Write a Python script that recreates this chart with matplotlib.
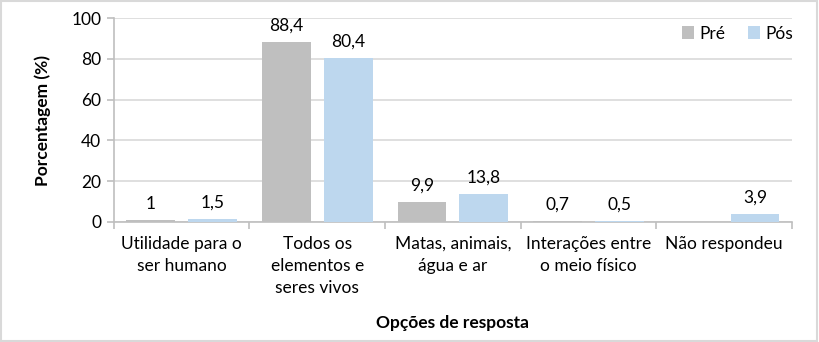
import numpy as np
import matplotlib
matplotlib.use('Agg')
import matplotlib.pyplot as plt
from matplotlib.patches import Rectangle

plt.rcParams['font.family'] = ['Lato', 'DejaVu Sans']

# Data
categorias = ['Utilidade para o\nser humano', 'Todos os\nelementos e\nseres vivos',
              'Matas, animais,\nágua e ar', 'Interações entre\no meio físico',
              'Não respondeu']
pre = [1, 88.4, 9.9, 0.7, None]
pos = [1.5, 80.4, 13.8, 0.5, 3.9]

fig = plt.figure(figsize=(8.19, 3.42), dpi=100)
ax = fig.add_axes([0.139, 0.351, 0.828, 0.596])

x = np.arange(len(categorias))
w = 0.36
off = 0.228
fs = 12.5

def fmt(v):
    return ('%g' % v).replace('.', ',')

pre_vals = [v if v is not None else 0 for v in pre]
ax.bar(x - off, pre_vals, w, color='#bfbfbf', label='Pré', zorder=3)
ax.bar(x + off, pos, w, color='#bdd7ee', label='Pós', zorder=3)

for xi, v in zip(x, pre):
    if v is not None:
        ax.text(xi - off, v + 4, fmt(v), ha='center', va='bottom', fontsize=fs)
for xi, v in zip(x, pos):
    ax.text(xi + off, v + 4, fmt(v), ha='center', va='bottom', fontsize=fs)

ax.set_xlim(-0.5, len(categorias) - 0.5)
ax.set_ylim(0, 100)
ax.set_yticks([0, 20, 40, 60, 80, 100])
ax.yaxis.grid(True, color='#d9d9d9', linewidth=1.2, zorder=0)
ax.set_axisbelow(True)

ax.set_xticks(np.arange(-0.5, len(categorias)))
ax.set_xticklabels([])
ax.set_xticks(x, minor=True)
ax.set_xticklabels(categorias, minor=True, fontsize=fs, linespacing=1.45, va='top')
ax.tick_params(axis='x', which='major', length=5, color='#bfbfbf', width=1.2)
ax.tick_params(axis='x', which='minor', length=0, pad=10)
ax.tick_params(axis='y', length=5, color='#bfbfbf', width=1.2, labelsize=fs, pad=4)

for s in ['top', 'right']:
    ax.spines[s].set_visible(False)
for s in ['left', 'bottom']:
    ax.spines[s].set_color('#bfbfbf')
    ax.spines[s].set_linewidth(1.2)

ax.set_ylabel('Porcentagem (%)', fontsize=fs, fontweight='bold', labelpad=15)
ax.set_xlabel('Opções de resposta', fontsize=fs, fontweight='bold', labelpad=14)

ax.legend(loc='upper right', ncol=2, frameon=False, fontsize=fs,
          handlelength=0.7, handleheight=0.7, handletextpad=0.3,
          columnspacing=1.3, bbox_to_anchor=(1.025, 1.04))

fig.patches.append(Rectangle((0.001, 0.002), 0.997, 0.995, transform=fig.transFigure,
                             fill=False, edgecolor='#d9d9d9', linewidth=1.5))

fig.savefig('out.png', dpi=100)
